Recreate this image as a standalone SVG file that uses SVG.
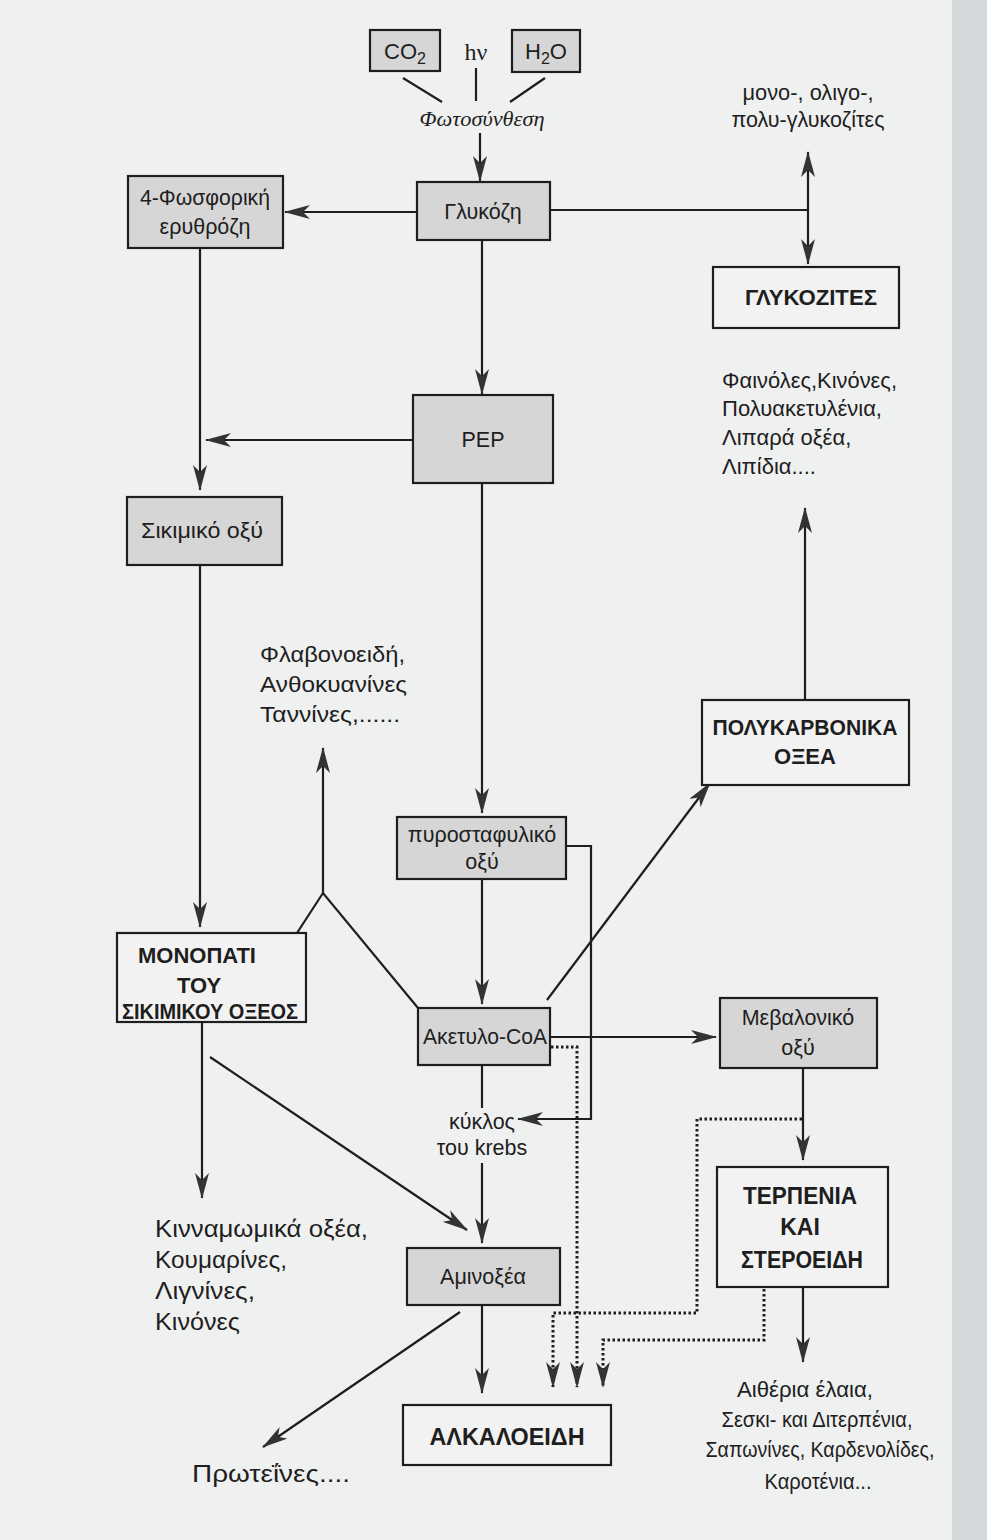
<svg xmlns="http://www.w3.org/2000/svg" width="987" height="1540" viewBox="0 0 987 1540">
<defs>
<style>
text{font-family:"Liberation Sans",Arial,sans-serif;fill:#1e1e1e;}
.t{font-size:21.5px;text-anchor:middle;}
.tl{font-size:22px;}
.b{font-size:22px;font-weight:bold;text-anchor:middle;}
.g{fill:#d6d6d6;stroke:#1e1e1e;stroke-width:2.2;}
.w{fill:#f2f2f2;stroke:#1e1e1e;stroke-width:2.2;}
.c{fill:none;stroke:#1e1e1e;stroke-width:2.2;}
.a{marker-end:url(#ah);}
.d{fill:none;stroke:#1e1e1e;stroke-width:3;stroke-dasharray:2.5 2.5;}
</style>
<marker id="ah" viewBox="0 0 26 14" refX="25" refY="7" markerWidth="26" markerHeight="14" markerUnits="userSpaceOnUse" orient="auto">
<path d="M0,0 L26,7 L0,14 L7,7 z" fill="#333333"/>
</marker>
</defs>
<rect x="0" y="0" width="987" height="1540" fill="#eff0f0"/>
<rect x="952" y="0" width="35" height="1540" fill="#d6d9db"/>

<g id="connectors">
<line class="c" x1="403" y1="78" x2="442" y2="102"/>
<line class="c" x1="476" y1="68" x2="476" y2="101"/>
<line class="c" x1="545" y1="78" x2="510" y2="102"/>
<line class="c a" x1="480" y1="133" x2="480" y2="181"/>
<line class="c a" x1="417" y1="212" x2="285" y2="212"/>
<polyline class="c" points="550,210 808,210"/>
<line class="c a" x1="808" y1="210" x2="808" y2="152"/>
<line class="c a" x1="808" y1="210" x2="808" y2="264"/>
<line class="c a" x1="200" y1="248" x2="200" y2="490"/>
<line class="c a" x1="482" y1="240" x2="482" y2="394"/>
<line class="c a" x1="413" y1="440" x2="206" y2="440"/>
<line class="c a" x1="482" y1="483" x2="482" y2="813"/>
<line class="c a" x1="200" y1="565" x2="200" y2="927"/>
<polyline class="c" points="297,933 323,893 418,1008"/>
<line class="c a" x1="323" y1="893" x2="323" y2="748"/>
<line class="c a" x1="482" y1="879" x2="482" y2="1004"/>
<polyline class="c a" points="566,846 591,846 591,1119 518,1119"/>
<line class="c a" x1="547" y1="1000" x2="710" y2="783"/>
<line class="c a" x1="805" y1="700" x2="805" y2="508"/>
<line class="c a" x1="550" y1="1037" x2="716" y2="1037"/>
<line class="c" x1="482" y1="1065" x2="482" y2="1108"/>
<line class="c a" x1="482" y1="1163" x2="482" y2="1243"/>
<line class="c a" x1="202" y1="1022" x2="202" y2="1198"/>
<line class="c a" x1="210" y1="1057" x2="467" y2="1230"/>
<line class="c a" x1="482" y1="1305" x2="482" y2="1393"/>
<line class="c a" x1="460" y1="1312" x2="263" y2="1447"/>
<line class="c a" x1="803" y1="1068" x2="803" y2="1160"/>
<line class="c a" x1="803" y1="1287" x2="803" y2="1362"/>
<polyline class="d a" points="551,1047 577,1047 577,1387"/>
<polyline class="d a" points="802,1119 697,1119 697,1313 553,1313 553,1387"/>
<polyline class="d a" points="764,1289 764,1340 603,1340 603,1387"/>
</g>

<g id="co2"><rect class="g" x="370" y="30" width="70" height="41"/><text x="405" y="59" style="font-size:22px;text-anchor:middle">CO<tspan font-size="16" dy="5">2</tspan></text></g>
<g id="hv"><text x="476" y="60" style="font-family:'Liberation Serif',serif;font-size:24px;text-anchor:middle">hν</text></g>
<g id="h2o"><rect class="g" x="512" y="30" width="68" height="42"/><text x="546" y="59" style="font-size:22px;text-anchor:middle">H<tspan font-size="16" dy="5">2</tspan><tspan dy="-5">O</tspan></text></g>
<g id="photosynthesis"><text x="482" y="126" style="font-family:'Liberation Serif',serif;font-style:italic;font-size:22px;text-anchor:middle" textLength="125" lengthAdjust="spacingAndGlyphs">Φωτοσύνθεση</text></g>
<g id="glucose"><rect class="g" x="417" y="182" width="133" height="58"/><text class="t" x="483" y="219">Γλυκόζη</text></g>
<g id="erythrose"><rect class="g" x="128" y="176" width="155" height="72"/><text class="t" x="205" y="205" textLength="130" lengthAdjust="spacingAndGlyphs">4-Φωσφορική</text><text class="t" x="205" y="234">ερυθρόζη</text></g>
<g id="glycosides-text"><text class="t" x="808" y="100" textLength="131" lengthAdjust="spacingAndGlyphs">μονο-, ολιγο-,</text><text class="t" x="808" y="127">πολυ-γλυκοζίτες</text></g>
<g id="glycosides"><rect class="w" x="713" y="267" width="186" height="61"/><text class="b" x="811" y="305" textLength="132" lengthAdjust="spacingAndGlyphs">ΓΛΥΚΟΖΙΤΕΣ</text></g>
<g id="phenols-text"><text class="tl" x="722" y="388" textLength="175" lengthAdjust="spacingAndGlyphs">Φαινόλες,Κινόνες,</text><text class="tl" x="722" y="416">Πολυακετυλένια,</text><text class="tl" x="722" y="445">Λιπαρά οξέα,</text><text class="tl" x="722" y="474">Λιπίδια....</text></g>
<g id="pep"><rect class="g" x="413" y="395" width="140" height="88"/><text class="t" x="483" y="447">PEP</text></g>
<g id="shikimic"><rect class="g" x="127" y="497" width="155" height="68"/><text class="t" x="202" y="538" textLength="122" lengthAdjust="spacingAndGlyphs">Σικιμικό οξύ</text></g>
<g id="flavonoids-text"><text class="tl" x="260" y="662" textLength="145" lengthAdjust="spacingAndGlyphs">Φλαβονοειδή,</text><text class="tl" x="260" y="692" textLength="147" lengthAdjust="spacingAndGlyphs">Ανθοκυανίνες</text><text class="tl" x="260" y="722" textLength="140" lengthAdjust="spacingAndGlyphs">Ταννίνες,......</text></g>
<g id="polyketides"><rect class="w" x="702" y="700" width="207" height="85"/><text class="b" x="805" y="735" textLength="185" lengthAdjust="spacingAndGlyphs">ΠΟΛΥΚΑΡΒΟΝΙΚΑ</text><text class="b" x="805" y="764">ΟΞΕΑ</text></g>
<g id="pyruvate"><rect class="g" x="397" y="817" width="169" height="62"/><text class="t" x="482" y="842">πυροσταφυλικό</text><text class="t" x="482" y="869">οξύ</text></g>
<g id="shikimate-path"><rect class="w" x="117" y="933" width="189" height="89"/><text class="b" x="197" y="963" style="font-size:22px">ΜΟΝΟΠΑΤΙ</text><text class="b" x="199" y="993" style="font-size:22px">ΤΟΥ</text><text class="b" x="210" y="1019" style="font-size:22px" textLength="176" lengthAdjust="spacingAndGlyphs">ΣΙΚΙΜΙΚΟΥ ΟΞΕΟΣ</text></g>
<g id="acetylcoa"><rect class="g" x="418" y="1008" width="132" height="57"/><text class="t" x="485" y="1044" textLength="124" lengthAdjust="spacingAndGlyphs">Ακετυλο-CoA</text></g>
<g id="mevalonic"><rect class="g" x="720" y="998" width="157" height="70"/><text class="t" x="798" y="1025">Μεβαλονικό</text><text class="t" x="798" y="1055">οξύ</text></g>
<g id="krebs"><text class="t" x="482" y="1129">κύκλος</text><text class="t" x="482" y="1155">του krebs</text></g>
<g id="terpenes"><rect class="w" x="717" y="1167" width="171" height="120"/><text class="b" x="800" y="1204" style="font-size:23px" textLength="114" lengthAdjust="spacingAndGlyphs">ΤΕΡΠΕΝΙΑ</text><text class="b" x="800" y="1235" style="font-size:23px">ΚΑΙ</text><text class="b" x="802" y="1268" style="font-size:23px" textLength="122" lengthAdjust="spacingAndGlyphs">ΣΤΕΡΟΕΙΔΗ</text></g>
<g id="cinnamic-text"><text class="tl" x="155" y="1237" style="font-size:24px" textLength="213" lengthAdjust="spacingAndGlyphs">Κινναμωμικά οξέα,</text><text class="tl" x="155" y="1268" style="font-size:24px" textLength="132" lengthAdjust="spacingAndGlyphs">Κουμαρίνες,</text><text class="tl" x="155" y="1299" style="font-size:24px" textLength="100" lengthAdjust="spacingAndGlyphs">Λιγνίνες,</text><text class="tl" x="155" y="1330" style="font-size:24px" textLength="85" lengthAdjust="spacingAndGlyphs">Κινόνες</text></g>
<g id="aminoacids"><rect class="g" x="407" y="1248" width="153" height="57"/><text class="t" x="483" y="1284">Αμινοξέα</text></g>
<g id="essential-oils-text"><text class="t" x="805" y="1397" textLength="136" lengthAdjust="spacingAndGlyphs">Αιθέρια έλαια,</text><text class="t" x="817" y="1427" textLength="191" lengthAdjust="spacingAndGlyphs">Σεσκι- και Διτερπένια,</text><text class="t" x="820" y="1457" textLength="229" lengthAdjust="spacingAndGlyphs">Σαπωνίνες, Καρδενολίδες,</text><text class="t" x="818" y="1489" textLength="107" lengthAdjust="spacingAndGlyphs">Καροτένια...</text></g>
<g id="alkaloids"><rect class="w" x="403" y="1405" width="208" height="60"/><text class="b" x="507" y="1445" style="font-size:23px" textLength="155" lengthAdjust="spacingAndGlyphs">ΑΛΚΑΛΟΕΙΔΗ</text></g>
<g id="proteins-text"><text class="tl" x="192" y="1482" style="font-size:23px" textLength="158" lengthAdjust="spacingAndGlyphs">Πρωτεΐνες....</text></g>
</svg>
